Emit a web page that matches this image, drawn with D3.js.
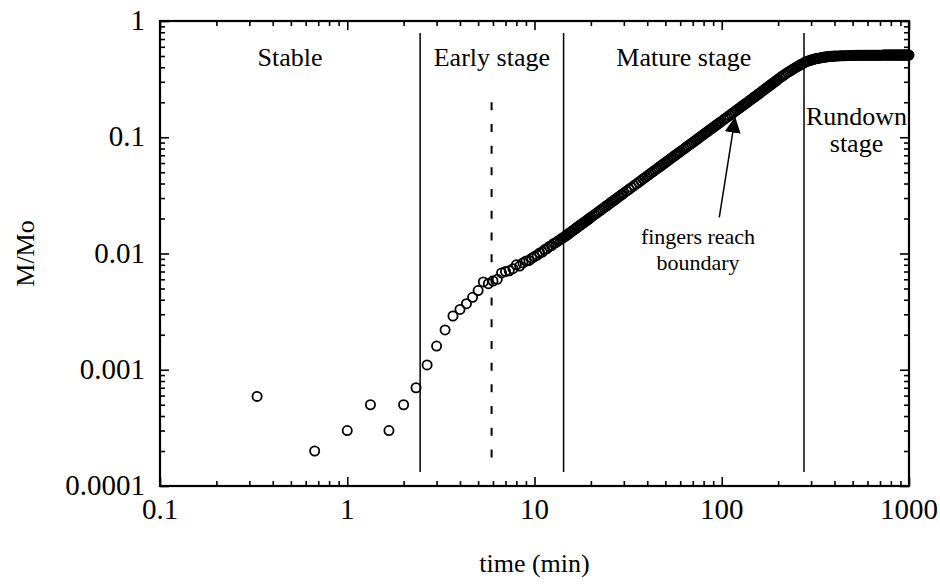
<!DOCTYPE html>
<html>
<head>
<meta charset="utf-8">
<script src="https://cdn.jsdelivr.net/npm/d3@7"></script>
<style>
  body { margin: 0; background: #fff; }
  text { font-family: "Liberation Serif", "Times New Roman", serif; fill: #000; }
</style>
</head>
<body>
<svg id="chart"></svg>
<script>
const width = 940;
const height = 586;

// tick values
const xTicks = [0.1, 1, 10, 100, 1000];
const xTickLabels = ["0.1", "1", "10", "100", "1000"];
const yTicks = [0.0001, 0.001, 0.01, 0.1, 1];
const yTickLabels = ["0.0001", "0.001", "0.01", "0.1", "1"];

// stage boundaries (min) and names
const stageBounds = [0.1, 2.45, 14.3, 275, 1000];
const stageNames = [["Stable"], ["Early stage"], ["Mature stage"], ["Rundown", "stage"]];
const dashedAt = 5.9;

// measured points: time (min)
const timeMin = [
  0.33, 0.67, 1.0, 1.33, 1.67, 2.0, 2.33, 2.67, 3.0, 3.33, 3.67, 4.0, 4.33, 4.67,
  5.0, 5.33, 5.67, 6.0, 6.33, 6.67, 7.0, 7.33, 7.67, 8.0, 8.33, 8.67, 9.0, 9.33, 9.67,
  10.0, 10.33, 10.67, 11.0, 11.33, 11.67, 12.0, 12.33, 12.67, 13.0, 13.33, 13.67, 14.0,
  14.25, 14.5, 14.75, 15, 15.25, 15.5, 15.75, 16, 16.25, 16.5, 16.75, 17, 17.25, 17.5, 17.75, 18, 18.25, 18.5, 18.75, 19, 19.25, 19.5, 19.75, 20,
  20.5, 21, 21.5, 22, 22.5, 23, 23.5, 24, 24.5, 25, 25.5, 26, 26.5, 27, 27.5, 28, 28.5, 29, 29.5, 30,
  31, 32, 33, 34, 35, 36, 37, 38, 39, 40, 41, 42, 43, 44, 45, 46, 47, 48, 49, 50, 51, 52, 53, 54, 55, 56, 57, 58, 59, 60,
  61.5, 63, 64.5, 66, 67.5, 69, 70.5, 72, 73.5, 75, 76.5, 78, 79.5, 81, 82.5, 84, 85.5, 87, 88.5, 90, 91.5, 93, 94.5, 96, 97.5, 99,
  102.5, 105, 107.5, 110, 112.5, 115, 117.5, 120, 122.5, 125, 127.5, 130, 132.5, 135, 137.5, 140, 142.5, 145, 147.5, 150,
  152.5, 155, 157.5, 160, 162.5, 165, 167.5, 170, 172.5, 175, 177.5, 180, 182.5, 185, 187.5, 190, 192.5, 195, 197.5, 200,
  205, 210, 215, 220, 225, 230, 235, 240, 245, 250, 255, 260, 265, 270, 275, 280, 285, 290, 295, 300,
  305, 310, 315, 320, 325, 330, 335, 340, 345, 350, 355, 360, 365, 370, 375, 380, 385, 390, 395, 400, 410,
  420, 430, 440, 450, 460, 470, 480, 490, 500, 510,
  520, 530, 540, 550, 560, 570, 580, 590, 600, 610,
  620, 630, 640, 650, 660, 670, 680, 690, 700, 710,
  720, 730, 740, 750, 760, 770, 780, 790,
  800, 810, 820, 830, 840, 850, 860, 870, 880, 890, 900, 910, 920, 930, 940, 950, 960, 970, 980, 990, 1000
];

// measured points: M/Mo
const massRatio = [
  0.00059, 0.0002, 0.0003, 0.0005, 0.0003, 0.0005, 0.0007, 0.0011, 0.0016, 0.0022, 0.0029, 0.0033, 0.0037, 0.0042,
  0.0048, 0.0057, 0.0055, 0.0058, 0.0060, 0.0068, 0.0070, 0.0071, 0.0074, 0.0080, 0.0078, 0.0083, 0.0086, 0.0087, 0.0091,
  0.0094, 0.0097, 0.0101, 0.0103, 0.0108, 0.0110, 0.0115, 0.0117, 0.0122, 0.0124, 0.0128, 0.0131, 0.0135,
  0.01368, 0.0140, 0.01426, 0.0145, 0.01483, 0.0151, 0.01541, 0.0157, 0.01599, 0.0163, 0.01657, 0.0169, 0.01717, 0.0175, 0.01776, 0.0181, 0.01835, 0.0186, 0.01895, 0.0192, 0.01954, 0.0198, 0.02015, 0.0205,
  0.02106, 0.0217, 0.02228, 0.0229, 0.02351, 0.0241, 0.02476, 0.0254, 0.02601, 0.0266, 0.02728, 0.0279, 0.02855, 0.0292, 0.02983, 0.0305, 0.03111, 0.0318, 0.03241, 0.0331,
  0.03438, 0.0357, 0.03701, 0.0384, 0.03969, 0.0410, 0.0424, 0.0438, 0.04512, 0.0465, 0.04787, 0.0493, 0.05066, 0.0521, 0.05346, 0.0549, 0.05629, 0.0577, 0.05915, 0.0606, 0.06202, 0.0635, 0.06491, 0.0664, 0.06781, 0.0693, 0.07075, 0.0722, 0.07371, 0.0752,
  0.07741, 0.0796, 0.08189, 0.0842, 0.08644, 0.0887, 0.09101, 0.0933, 0.09561, 0.0980, 0.1003, 0.1026, 0.1049, 0.1073, 0.1096, 0.1120, 0.1144, 0.1168, 0.1191, 0.1215, 0.1239, 0.1264, 0.1288, 0.1312, 0.1336, 0.1361,
  0.1418, 0.1459, 0.1500, 0.1542, 0.1584, 0.1625, 0.1667, 0.1709, 0.1751, 0.1794, 0.1837, 0.1879, 0.1922, 0.1965, 0.2009, 0.2051, 0.2096, 0.2139, 0.2183, 0.2226,
  0.2271, 0.2315, 0.2360, 0.2403, 0.2456, 0.2501, 0.2547, 0.2592, 0.2638, 0.2684, 0.2731, 0.2778, 0.2824, 0.2870, 0.2917, 0.2964, 0.3010, 0.3057, 0.3104, 0.3162,
  0.3258, 0.3345, 0.3432, 0.3521, 0.3607, 0.3687, 0.3768, 0.3848, 0.3928, 0.4007, 0.4081, 0.4154, 0.4225, 0.4298, 0.4369, 0.4441, 0.4491, 0.4531, 0.4570, 0.4608,
  0.4647, 0.4685, 0.4722, 0.4748, 0.4771, 0.4792, 0.4814, 0.4836, 0.4857, 0.4878, 0.4898, 0.4909, 0.4920, 0.4931, 0.4941, 0.4953, 0.4963, 0.4973, 0.4983, 0.4989, 0.4997,
  0.5005, 0.5012, 0.5019, 0.5026, 0.5033, 0.5039, 0.5045, 0.5052, 0.5058, 0.5060,
  0.5062, 0.5064, 0.5065, 0.5067, 0.5069, 0.5071, 0.5072, 0.5074, 0.5075, 0.5076,
  0.5077, 0.5078, 0.5079, 0.5080, 0.5081, 0.5082, 0.5083, 0.5084, 0.5085, 0.5086,
  0.5086, 0.5087, 0.5087, 0.5088, 0.5088, 0.5089, 0.5089, 0.5090,
  0.509, 0.509, 0.509, 0.509, 0.509, 0.509, 0.509, 0.509, 0.509, 0.509, 0.509, 0.509, 0.509, 0.509, 0.509, 0.509, 0.509, 0.509, 0.509, 0.509, 0.509
];

const plotLeft = 160, plotRight = 909, plotTop = 21, plotBottom = 486;

var svg = d3.select("#chart")
    .attr("width", width)
    .attr("height", height);

svg.append("rect").attr("width", width).attr("height", height).attr("fill", "#fff");

var x = d3.scaleLog().domain([0.1, 1000]).range([plotLeft, plotRight]);
var y = d3.scaleLog().domain([0.0001, 1]).range([plotBottom, plotTop]);

// minor tick values (2..9 per decade)
var xMinor = [];
for (var e = -1; e < 3; e++) for (var k = 2; k <= 9; k++) xMinor.push(k * Math.pow(10, e));
var yMinor = [];
for (var e2 = -4; e2 < 0; e2++) for (var k2 = 2; k2 <= 9; k2++) yMinor.push(k2 * Math.pow(10, e2));

function frameAxis(axis, transform) {
  svg.append("g")
      .attr("transform", transform)
      .call(axis)
      .call(g => g.select(".domain").remove())
      .call(g => g.selectAll("line").attr("stroke", "#000").attr("stroke-width", 1.6));
}

// major + minor ticks on all four sides, pointing inward
frameAxis(d3.axisBottom(x).tickValues(xTicks).tickSize(-9).tickFormat(""), `translate(0,${plotBottom})`);
frameAxis(d3.axisBottom(x).tickValues(xMinor).tickSize(-5).tickFormat(""), `translate(0,${plotBottom})`);
frameAxis(d3.axisTop(x).tickValues(xTicks).tickSize(-9).tickFormat(""), `translate(0,${plotTop})`);
frameAxis(d3.axisTop(x).tickValues(xMinor).tickSize(-5).tickFormat(""), `translate(0,${plotTop})`);
frameAxis(d3.axisLeft(y).tickValues(yTicks).tickSize(-9).tickFormat(""), `translate(${plotLeft},0)`);
frameAxis(d3.axisLeft(y).tickValues(yMinor).tickSize(-5).tickFormat(""), `translate(${plotLeft},0)`);
frameAxis(d3.axisRight(y).tickValues(yTicks).tickSize(-9).tickFormat(""), `translate(${plotRight},0)`);
frameAxis(d3.axisRight(y).tickValues(yMinor).tickSize(-5).tickFormat(""), `translate(${plotRight},0)`);

// frame
svg.append("rect")
    .attr("x", plotLeft).attr("y", plotTop)
    .attr("width", plotRight - plotLeft).attr("height", plotBottom - plotTop)
    .attr("fill", "none").attr("stroke", "#000").attr("stroke-width", 2.2);

// tick labels
svg.append("g").selectAll("text")
    .data(xTicks).enter().append("text")
    .attr("x", d => x(d))
    .attr("y", plotBottom + 33)
    .attr("text-anchor", "middle")
    .attr("font-size", 29)
    .text((d, i) => xTickLabels[i]);

svg.append("g").selectAll("text")
    .data(yTicks).enter().append("text")
    .attr("x", plotLeft - 15)
    .attr("y", d => y(d) + 9)
    .attr("text-anchor", "end")
    .attr("font-size", 29)
    .text((d, i) => yTickLabels[i]);

// axis titles
svg.append("text")
    .attr("x", x(10))
    .attr("y", 572)
    .attr("text-anchor", "middle")
    .attr("font-size", 26)
    .text("time (min)");

svg.append("text")
    .attr("transform", `translate(34,${y(0.01)}) rotate(-90)`)
    .attr("text-anchor", "middle")
    .attr("font-size", 26)
    .text("M/Mo");

// stage boundary lines
svg.append("g").selectAll("line")
    .data(stageBounds.slice(1, 4)).enter().append("line")
    .attr("x1", d => x(d)).attr("x2", d => x(d))
    .attr("y1", y(0.79)).attr("y2", y(0.000132))
    .attr("stroke", "#000").attr("stroke-width", 1.5);

svg.append("line")
    .attr("x1", x(dashedAt)).attr("x2", x(dashedAt))
    .attr("y1", y(0.2)).attr("y2", y(0.000134))
    .attr("stroke", "#000").attr("stroke-width", 2)
    .attr("stroke-dasharray", "8,13.7");

// stage names, centred in each stage (log midpoint)
stageNames.forEach((lines, i) => {
  var cx = (x(stageBounds[i]) + x(stageBounds[i + 1])) / 2;
  var baseY = lines.length > 1 ? 125 : 66;
  lines.forEach((s, j) => {
    svg.append("text")
        .attr("x", cx)
        .attr("y", baseY + j * 27)
        .attr("text-anchor", "middle")
        .attr("font-size", 26)
        .text(s);
  });
});

// data points
svg.append("g").selectAll("circle")
    .data(d3.zip(timeMin, massRatio)).enter().append("circle")
    .attr("cx", d => x(d[0]))
    .attr("cy", d => y(d[1]))
    .attr("r", 4.6)
    .attr("fill", "none")
    .attr("stroke", "#000")
    .attr("stroke-width", 1.8);

// annotation arrow
svg.append("defs").append("marker")
    .attr("id", "head")
    .attr("viewBox", "0 0 10 10")
    .attr("refX", 10).attr("refY", 5)
    .attr("markerWidth", 16).attr("markerHeight", 16)
    .attr("markerUnits", "userSpaceOnUse")
    .attr("orient", "auto")
    .append("path").attr("d", "M0,0 L10,5 L0,10 Z").attr("fill", "#000");

svg.append("line")
    .attr("x1", x(97)).attr("y1", y(0.0205))
    .attr("x2", x(118)).attr("y2", y(0.15))
    .attr("stroke", "#000").attr("stroke-width", 1.5)
    .attr("marker-end", "url(#head)");

svg.append("text")
    .attr("x", 698).attr("y", 244)
    .attr("text-anchor", "middle")
    .attr("font-size", 22)
    .text("fingers reach");
svg.append("text")
    .attr("x", 698).attr("y", 270)
    .attr("text-anchor", "middle")
    .attr("font-size", 22)
    .text("boundary");
</script>
</body>
</html>
